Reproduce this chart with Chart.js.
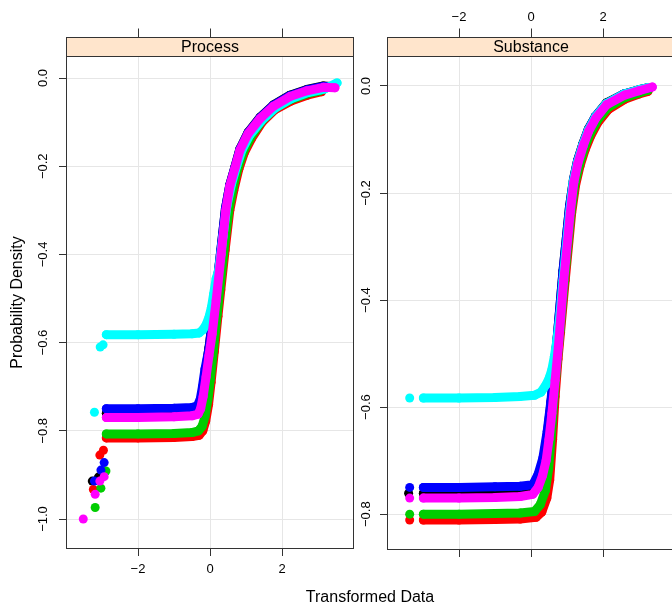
<!DOCTYPE html>
<html>
<head>
<meta charset="utf-8">
<script src="https://cdn.jsdelivr.net/npm/chart.js@4.4.1/dist/chart.umd.min.js"></script>
<style>
html, body { margin: 0; padding: 0; background: #fff; overflow: hidden; }
#wrap { position: relative; width: 672px; height: 604px; overflow: hidden; font-family: "Liberation Sans", Arial, sans-serif; }
canvas { position: absolute; top: 0; }
#xTitle { position: absolute; left: 270px; width: 200px; top: 587px; text-align: center; font-size: 16px; line-height: 19px; color: #000; }
</style>
</head>
<body>
<div id="wrap">
  <canvas id="procChart" width="360" height="604" style="left:0"></canvas>
  <canvas id="subsChart" width="340" height="604" style="left:350px"></canvas>
  <div id="xTitle">Transformed Data</div>
</div>
<script>
// panels and ticks
const panelNames = ["Process", "Substance"];
const xTicks = [-2, 0, 2];
const procYTicks = [-1.0, -0.8, -0.6, -0.4, -0.2, 0];
const subsYTicks = [-0.8, -0.6, -0.4, -0.2, 0];

// R palette order: black, red, green3, blue, cyan, magenta
const seriesColors = ["#000000", "#ff0000", "#00cd00", "#0000ff", "#00ffff", "#ff00ff"];

// Process panel, [x, y]
const procBlack = [[-2.88,-0.760],[-2.0,-0.760],[-1.0,-0.759],[-0.5,-0.757],[-0.34,-0.752],[-0.26,-0.738],[-0.20,-0.710],[-0.13,-0.668],[-0.03,-0.612],[0.05,-0.562],[0.16,-0.492],[0.30,-0.392],[0.43,-0.296],[0.55,-0.242],[0.69,-0.202],[0.83,-0.161],[1.06,-0.123],[1.39,-0.089],[1.76,-0.061],[2.22,-0.039],[2.69,-0.026],[3.15,-0.018],[3.35,-0.019]];
const procRed = [[-2.88,-0.816],[-2.0,-0.816],[-1.0,-0.815],[-0.5,-0.813],[-0.30,-0.810],[-0.20,-0.800],[-0.12,-0.778],[-0.04,-0.740],[0.03,-0.690],[0.12,-0.620],[0.22,-0.540],[0.30,-0.480],[0.42,-0.390],[0.55,-0.300],[0.66,-0.255],[0.80,-0.207],[0.95,-0.170],[1.15,-0.138],[1.45,-0.100],[1.80,-0.072],[2.25,-0.052],[2.70,-0.039],[3.10,-0.031]];
const procGreen = [[-2.88,-0.807],[-2.0,-0.807],[-1.0,-0.806],[-0.5,-0.804],[-0.32,-0.800],[-0.22,-0.790],[-0.14,-0.768],[-0.06,-0.730],[0.01,-0.683],[0.10,-0.615],[0.20,-0.535],[0.28,-0.475],[0.40,-0.385],[0.53,-0.296],[0.64,-0.250],[0.78,-0.203],[0.93,-0.167],[1.13,-0.135],[1.43,-0.098],[1.78,-0.070],[2.23,-0.049],[2.68,-0.036],[3.05,-0.029]];
const procBlue = [[-2.88,-0.750],[-2.0,-0.750],[-1.0,-0.749],[-0.5,-0.747],[-0.35,-0.743],[-0.27,-0.728],[-0.21,-0.700],[-0.14,-0.660],[-0.02,-0.610],[0.05,-0.560],[0.16,-0.490],[0.30,-0.390],[0.43,-0.295],[0.55,-0.243],[0.69,-0.203],[0.83,-0.162],[1.06,-0.124],[1.39,-0.090],[1.76,-0.062],[2.22,-0.040],[2.69,-0.027],[3.15,-0.019],[3.40,-0.019]];
const procCyan = [[-2.88,-0.582],[-2.0,-0.582],[-1.0,-0.581],[-0.5,-0.580],[-0.30,-0.578],[-0.20,-0.571],[-0.10,-0.558],[-0.02,-0.540],[0.04,-0.520],[0.10,-0.490],[0.17,-0.455],[0.24,-0.436],[0.36,-0.360],[0.47,-0.290],[0.60,-0.240],[0.74,-0.200],[0.89,-0.163],[1.10,-0.130],[1.43,-0.097],[1.80,-0.069],[2.25,-0.047],[2.72,-0.033],[3.18,-0.025],[3.53,-0.011]];
const procMagenta = [[-2.88,-0.770],[-2.0,-0.770],[-1.0,-0.768],[-0.5,-0.766],[-0.33,-0.762],[-0.26,-0.750],[-0.19,-0.722],[-0.11,-0.678],[-0.03,-0.630],[0.06,-0.580],[0.17,-0.505],[0.31,-0.400],[0.44,-0.300],[0.55,-0.245],[0.69,-0.205],[0.83,-0.164],[1.06,-0.126],[1.39,-0.092],[1.76,-0.064],[2.22,-0.042],[2.69,-0.029],[3.15,-0.021],[3.47,-0.022]];

// Process panel, loose points at the far left
const procBlackTail = [[-3.27,-0.914],[-3.10,-0.905]];
const procRedTail = [[-2.96,-0.844],[-3.06,-0.855],[-3.24,-0.933]];
const procGreenTail = [[-2.89,-0.891],[-3.03,-0.930],[-3.19,-0.974]];
const procBlueTail = [[-2.94,-0.872],[-3.03,-0.889],[-3.21,-0.914]];
const procCyanTail = [[-3.05,-0.610],[-2.97,-0.605],[-3.21,-0.758]];
const procMagentaTail = [[-2.94,-0.904],[-3.06,-0.914],[-3.19,-0.944],[-3.52,-1.0]];

// Substance panel
const subsBlack = [[-2.99,-0.761],[-2.0,-0.761],[-1.0,-0.760],[-0.3,-0.759],[0.05,-0.756],[0.20,-0.737],[0.33,-0.705],[0.45,-0.652],[0.55,-0.595],[0.64,-0.533],[0.74,-0.462],[0.89,-0.345],[1.07,-0.225],[1.18,-0.174],[1.29,-0.140],[1.44,-0.108],[1.59,-0.081],[1.79,-0.057],[2.09,-0.032],[2.58,-0.015],[3.00,-0.007],[3.25,-0.003]];
const subsRed = [[-2.99,-0.811],[-2.0,-0.811],[-1.0,-0.810],[-0.3,-0.809],[0.14,-0.806],[0.30,-0.796],[0.44,-0.770],[0.52,-0.736],[0.60,-0.660],[0.67,-0.580],[0.75,-0.510],[0.82,-0.460],[0.95,-0.363],[1.13,-0.237],[1.24,-0.185],[1.36,-0.150],[1.50,-0.120],[1.66,-0.093],[1.86,-0.068],[2.15,-0.044],[2.60,-0.025],[3.00,-0.015],[3.25,-0.010]];
const subsGreen = [[-2.99,-0.800],[-2.0,-0.800],[-1.0,-0.799],[-0.3,-0.798],[0.10,-0.795],[0.26,-0.782],[0.40,-0.756],[0.49,-0.715],[0.57,-0.650],[0.65,-0.575],[0.74,-0.505],[0.81,-0.455],[0.93,-0.363],[1.11,-0.237],[1.22,-0.183],[1.34,-0.148],[1.48,-0.117],[1.64,-0.090],[1.84,-0.065],[2.13,-0.041],[2.60,-0.022],[3.00,-0.013],[3.25,-0.008]];
const subsBlue = [[-2.99,-0.750],[-2.0,-0.750],[-1.0,-0.749],[-0.3,-0.748],[0.05,-0.745],[0.20,-0.725],[0.33,-0.695],[0.45,-0.645],[0.55,-0.590],[0.64,-0.530],[0.74,-0.460],[0.89,-0.345],[1.07,-0.226],[1.18,-0.175],[1.29,-0.141],[1.44,-0.109],[1.59,-0.082],[1.79,-0.057],[2.09,-0.033],[2.58,-0.015],[3.00,-0.007],[3.30,-0.003]];
const subsCyan = [[-2.99,-0.583],[-2.0,-0.583],[-1.0,-0.582],[-0.3,-0.580],[0.10,-0.578],[0.28,-0.572],[0.42,-0.558],[0.51,-0.545],[0.58,-0.530],[0.65,-0.505],[0.72,-0.475],[0.81,-0.424],[0.89,-0.363],[1.07,-0.237],[1.17,-0.180],[1.29,-0.143],[1.44,-0.110],[1.59,-0.083],[1.79,-0.058],[2.09,-0.033],[2.59,-0.015],[3.00,-0.007],[3.25,-0.003]];
const subsMagenta = [[-2.99,-0.770],[-2.0,-0.770],[-1.0,-0.769],[-0.3,-0.767],[0.05,-0.763],[0.20,-0.750],[0.32,-0.728],[0.42,-0.700],[0.50,-0.660],[0.58,-0.612],[0.67,-0.550],[0.76,-0.487],[0.91,-0.363],[1.09,-0.237],[1.19,-0.180],[1.30,-0.145],[1.45,-0.112],[1.60,-0.085],[1.80,-0.060],[2.10,-0.035],[2.60,-0.017],[3.00,-0.009],[3.37,-0.002]];

const subsBlackTail = [[-3.40,-0.761]];
const subsRedTail = [[-3.37,-0.811]];
const subsGreenTail = [[-3.37,-0.800]];
const subsBlueTail = [[-3.37,-0.750]];
const subsCyanTail = [[-3.37,-0.583]];
const subsMagentaTail = [[-3.37,-0.770]];

const procSeries = [procBlack, procRed, procGreen, procBlue, procCyan, procMagenta];
const procTails = [procBlackTail, procRedTail, procGreenTail, procBlueTail, procCyanTail, procMagentaTail];
const subsSeries = [subsBlack, subsRed, subsGreen, subsBlue, subsCyan, subsMagenta];
const subsTails = [subsBlackTail, subsRedTail, subsGreenTail, subsBlueTail, subsCyanTail, subsMagentaTail];

const frameColor = "#333333";
const gridColor = "#e6e6e6";
const stripColor = "#ffe5cc";
const textColor = "#000000";
const fontFamily = '"Liberation Sans", Arial, sans-serif';

Chart.defaults.font.family = fontFamily;

function toXY(pairs) {
    return pairs.map(p => ({ x: p[0], y: p[1] }));
}

function fmtX(v) {
    if (v === 0) return "0";
    return v < 0 ? "\u2212" + Math.abs(v) : String(v);
}

function fmtY(v) {
    if (Math.abs(v) < 1e-9) return "0.0";
    return "\u2212" + Math.abs(v).toFixed(1);
}

function buildDatasets(series, tails) {
    const sets = [];
    series.forEach((pts, i) => {
        const col = seriesColors[i];
        sets.push({
            data: toXY(pts), showLine: true,
            borderColor: col, backgroundColor: col, borderWidth: 9,
            borderCapStyle: "round", borderJoinStyle: "round",
            pointRadius: 4.5, pointBorderWidth: 0, pointHoverRadius: 0,
            order: 10 - i
        });
        sets.push({
            data: toXY(tails[i]), showLine: false,
            borderColor: col, backgroundColor: col,
            pointRadius: 4.5, pointBorderWidth: 0, pointHoverRadius: 0,
            order: 10 - i
        });
    });
    return sets;
}

// strip, frame and top tick marks of a lattice panel
const panelFrame = {
    id: "panelFrame",
    afterDraw(chart, args, opts) {
        const { ctx, chartArea: a } = chart;
        const xs = chart.scales.x;
        const l = Math.round(a.left) + 0.5, r = Math.round(a.right) - 0.5;
        const t = Math.round(a.top) + 0.5, b = Math.round(a.bottom) - 0.5;
        const st = t - 19;
        ctx.save();
        ctx.lineWidth = 1;
        ctx.strokeStyle = frameColor;
        ctx.fillStyle = stripColor;
        ctx.fillRect(l, st, r - l, t - st);
        ctx.strokeRect(l, st, r - l, t - st);
        ctx.strokeRect(l, t, r - l, b - t);
        ctx.beginPath();
        xs.ticks.forEach(tk => {
            const px = Math.round(xs.getPixelForValue(tk.value)) + 0.5;
            ctx.moveTo(px, st);
            ctx.lineTo(px, st - 9);
        });
        ctx.stroke();
        ctx.fillStyle = textColor;
        ctx.textAlign = "center";
        ctx.textBaseline = "middle";
        ctx.font = "16px " + fontFamily;
        ctx.fillText(opts.title, (l + r) / 2, (st + t) / 2 + 1);
        if (opts.topLabels) {
            ctx.font = "13px " + fontFamily;
            xs.ticks.forEach(tk => {
                ctx.fillText(fmtX(tk.value), xs.getPixelForValue(tk.value), st - 20.5);
            });
        }
        ctx.restore();
    }
};

function makePanel(canvasId, cfg) {
    const ctx = document.getElementById(canvasId).getContext("2d");
    return new Chart(ctx, {
        type: "scatter",
        data: { datasets: buildDatasets(cfg.series, cfg.tails) },
        options: {
            responsive: false,
            animation: false,
            events: [],
            layout: { padding: { top: 56, right: cfg.padRight, left: 0, bottom: 0 } },
            plugins: {
                legend: { display: false },
                tooltip: { enabled: false },
                panelFrame: { title: cfg.title, topLabels: cfg.topLabels }
            },
            scales: {
                x: {
                    type: "linear", min: -4, max: 4,
                    afterBuildTicks: s => { s.ticks = xTicks.map(v => ({ value: v })); },
                    afterFit: s => { s.height = cfg.xHeight; },
                    grid: { color: gridColor, tickColor: frameColor, tickLength: 7 },
                    border: { display: false },
                    ticks: {
                        display: cfg.bottomLabels, color: textColor, font: { size: 13 },
                        padding: 6, maxRotation: 0, autoSkip: false, callback: v => fmtX(v)
                    }
                },
                y: {
                    type: "linear", min: cfg.yMin, max: cfg.yMax,
                    afterBuildTicks: s => { s.ticks = cfg.yTicks.map(v => ({ value: v })); },
                    afterFit: s => { s.width = cfg.yWidth; },
                    grid: { color: gridColor, tickColor: frameColor, tickLength: 7 },
                    border: { display: false },
                    ticks: {
                        color: textColor, font: { size: 13 }, minRotation: 90, maxRotation: 90,
                        crossAlign: "center", padding: cfg.yPad, autoSkip: false, callback: v => fmtY(v)
                    },
                    title: {
                        display: !!cfg.yTitle, text: cfg.yTitle || "", color: textColor,
                        font: { size: 16 }, padding: { top: 8, bottom: 0 }
                    }
                }
            }
        },
        plugins: [panelFrame]
    });
}

makePanel("procChart", {
    title: panelNames[0], series: procSeries, tails: procTails, yTicks: procYTicks,
    yMin: -1.068, yMax: 0.05, yWidth: 66, yPad: 3, padRight: 6, xHeight: 55,
    bottomLabels: true, topLabels: false, yTitle: "Probability Density"
});

makePanel("subsChart", {
    title: panelNames[1], series: subsSeries, tails: subsTails, yTicks: subsYTicks,
    yMin: -0.867, yMax: 0.056, yWidth: 37, yPad: 1, padRight: 15, xHeight: 54,
    bottomLabels: false, topLabels: true, yTitle: ""
});
</script>
</body>
</html>
